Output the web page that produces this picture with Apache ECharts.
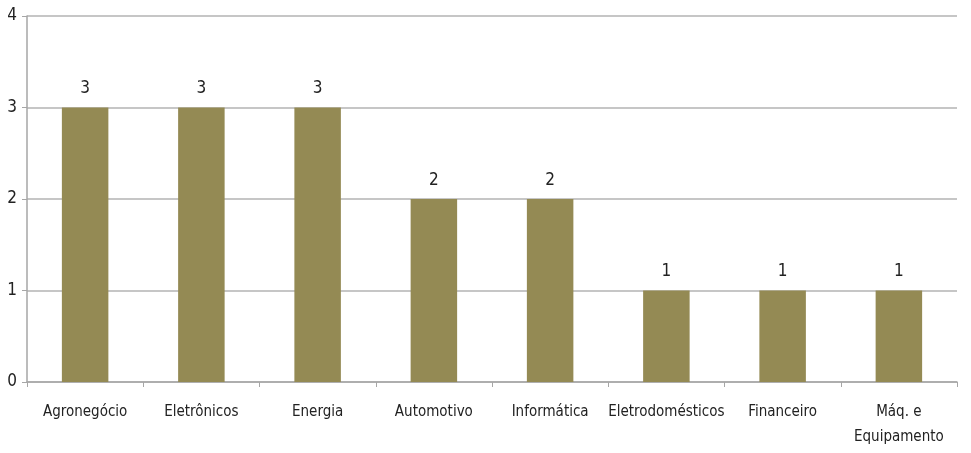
<!DOCTYPE html>
<html><head><meta charset="utf-8">
<script src="https://cdn.jsdelivr.net/npm/echarts@6/dist/echarts.min.js"></script>
<style>html,body{margin:0;padding:0;background:#fff}#c{width:971px;height:453px}</style>
</head><body><div id="c"></div>
<script>
const categories = ['Agronegócio','Eletrônicos','Energia','Automotivo','Informática','Eletrodomésticos','Financeiro','Máq. e\nEquipamento'];
const values = [3,3,3,2,2,1,1,1];
const yTicks = {min:0, max:4, interval:1};
const FONT = '"DejaVu Sans Condensed",sans-serif';
const chart = echarts.init(document.getElementById('c'));
chart.setOption({
  animation:false,
  grid:{left:27,right:14,top:16,bottom:71,containLabel:false},
  xAxis:{type:'category',data:categories,
    axisLine:{lineStyle:{color:'#a6a6a6',width:1.5}},
    axisTick:{show:true,alignWithLabel:false,length:5,lineStyle:{color:'#a6a6a6'}},
    axisLabel:{color:'#222',fontFamily:FONT,fontSize:15,margin:18,lineHeight:25,interval:0}},
  yAxis:{type:'value',min:yTicks.min,max:yTicks.max,interval:yTicks.interval,
    axisLine:{show:true,lineStyle:{color:'#a6a6a6',width:1.5}},
    axisTick:{show:true,length:5,lineStyle:{color:'#a6a6a6'}},
    splitLine:{lineStyle:{color:'#b3b3b3',width:1.5}},
    axisLabel:{color:'#222',fontFamily:FONT,fontSize:17,margin:10}},
  series:[{type:'bar',data:values,barWidth:'40%',
    itemStyle:{color:'#948a54'},
    label:{show:true,position:'top',distance:10,color:'#222',fontFamily:FONT,fontSize:17}}]
});
</script></body></html>
